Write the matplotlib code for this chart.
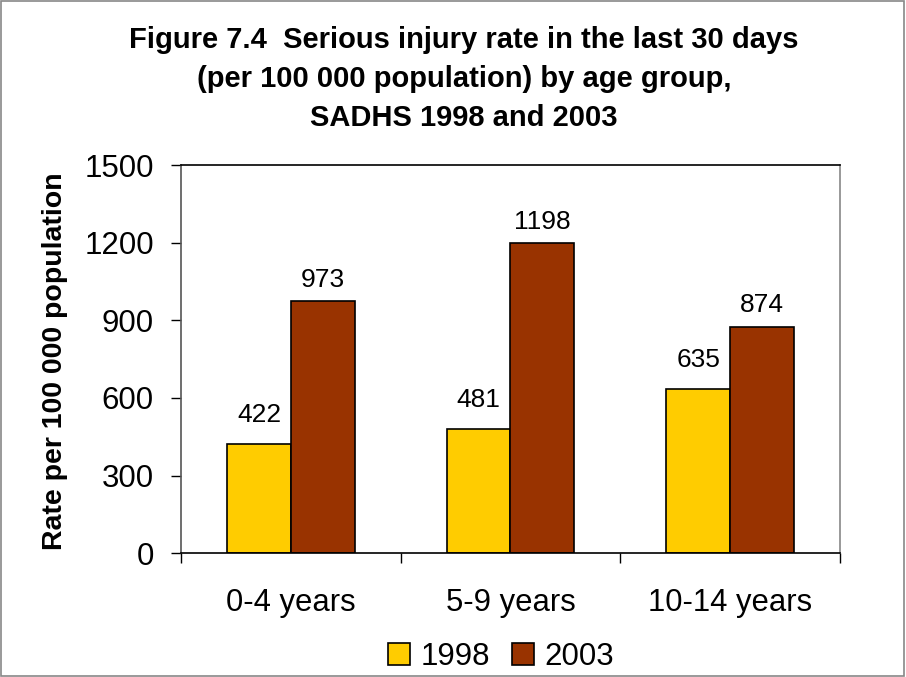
import numpy as np
import matplotlib.pyplot as plt
from matplotlib.patches import Rectangle

plt.rcParams["font.family"] = ["Liberation Sans", "DejaVu Sans"]

categories = ["0-4 years", "5-9 years", "10-14 years"]
rate_1998 = [422, 481, 635]
rate_2003 = [973, 1198, 874]
series_names = ["1998", "2003"]
yticks = [0, 300, 600, 900, 1200, 1500]

fig = plt.figure(figsize=(9.06, 6.77), dpi=100)
ax = fig.add_axes([0.1998, 0.183, 0.7272, 0.573])

x = np.arange(len(categories))
w = 0.29
b1 = ax.bar(x - w / 2, rate_1998, w, color="#FFCC00", edgecolor="black", linewidth=1.2, label=series_names[0])
b2 = ax.bar(x + w / 2, rate_2003, w, color="#993300", edgecolor="black", linewidth=1.2, label=series_names[1])

# Excel places the labels a bit differently per series
for bars, off in ((b1, 12), (b2, 7)):
    for r in bars:
        ax.annotate(f"{int(r.get_height())}", (r.get_x() + r.get_width() / 2, r.get_height()),
                    xytext=(0, off), textcoords="offset points", ha="center", va="bottom", fontsize=19)

ax.set_xlim(-0.5, len(categories) - 0.5)
ax.set_ylim(0, 1500)
ax.set_yticks(yticks)
ax.set_yticklabels([str(t) for t in yticks], fontsize=22.5)
ax.tick_params(axis="y", direction="out", length=7, width=1, pad=12.5)

ax.set_xticks(x)
ax.set_xticklabels(categories, fontsize=22.3)
ax.tick_params(axis="x", length=0, pad=25)
ax.set_xticks(np.arange(-0.5, len(categories)), minor=True)
ax.tick_params(axis="x", which="minor", direction="out", length=7, width=1)

for s in ax.spines.values():
    s.set_linewidth(1.2)
ax.spines["left"].set_color("#555555")
ax.spines["right"].set_color("#888888")
ax.spines["top"].set_color("black")
ax.spines["bottom"].set_color("black")

ax.set_ylabel("Rate per 100 000 population", fontsize=20.5, fontweight="bold")
ax.yaxis.set_label_coords(-0.171, 0.495)

fig.text(0.512, 0.962, "Figure 7.4  Serious injury rate in the last 30 days\n"
         "(per 100 000 population) by age group,\nSADHS 1998 and 2003",
         ha="center", va="top", fontsize=21, fontweight="bold", linespacing=1.5)

fig.legend(handles=[b1, b2], labels=series_names, loc="center", bbox_to_anchor=(0.553, 0.03),
           ncol=2, frameon=False, fontsize=22.5, handlelength=0.7, handleheight=0.7,
           handletextpad=0.35, columnspacing=0.7, borderaxespad=0)

fig.patches.append(Rectangle((0.001, 0.001), 0.997, 0.997, transform=fig.transFigure,
                             fill=False, edgecolor="#888888", linewidth=1.2))

fig.savefig("out.png", dpi=100)
